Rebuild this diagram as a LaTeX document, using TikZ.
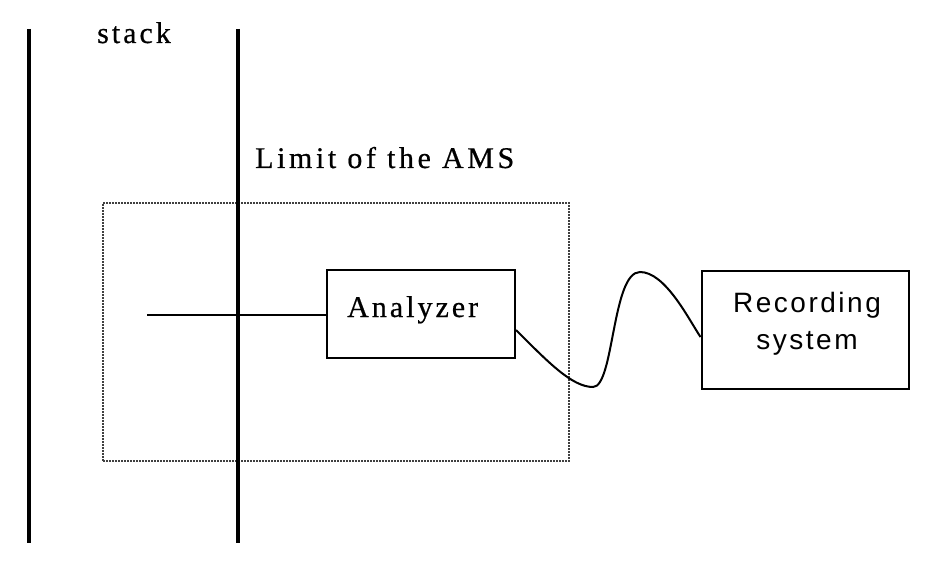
\documentclass[tikz,border=0pt]{standalone}
\usepackage{fontspec}
\usetikzlibrary{calc}
\newfontfamily\serifLS[LetterSpace=10,FakeBold=0.6]{Liberation Serif}
\newfontfamily\serifLW[LetterSpace=12,FakeBold=0.6]{Liberation Serif}
\newfontfamily\sansLS[LetterSpace=9]{Liberation Sans}
\begin{document}
\begin{tikzpicture}[x=1pt,y=-1pt,
  stackline/.style={line width=3.4pt},
  boxnode/.style={draw, line width=2pt, inner sep=0pt},
  amsbox/.style={draw=black!75, line width=1.6pt, dash pattern=on 1.6pt off 1.4pt, inner sep=0pt},
  serlbl/.style={font=\serifLS\fontsize{30}{36}\selectfont, inner sep=0pt, anchor=base west},
  sanlbl/.style={font=\sansLS\fontsize{28}{37}\selectfont, inner sep=0pt, align=center},
  wire/.style={line width=2pt},
  probe/.style={line width=1.3pt}]
\useasboundingbox (0,0) rectangle (928,569);
% stack walls
\coordinate (l1t) at (29,29);
\coordinate (l1b) at (29,543);
\coordinate (l2t) at (238,29);
\coordinate (l2b) at (238,543);
% AMS limit (dotted box)
\node[amsbox, minimum width=466pt, minimum height=258pt] (ams) at (336,332) {};
\draw[stackline] (l1t) -- (l1b);
\draw[stackline] (l2t) -- (l2b);
\node[serlbl] (stacklbl) at (97,43) {stack};
\node[serlbl, font=\serifLW\fontsize{30}{36}\selectfont] (amslbl) at (255,168) {Limit of the AMS};
% analyzer
\node[boxnode, minimum width=188pt, minimum height=88pt] (ana) at (421,314) {};
\node[serlbl] (analbl) at (347,317) {Analyzer};
% recording system
\node[boxnode, minimum width=207pt, minimum height=118pt] (rec) at (805,330) {};
\node[sanlbl] (reclbl) at ($(rec.center)+(2,-6)$) {Recording\\system};
% probe line
\coordinate (pstart) at (147,315);
\draw[probe] (pstart) -- (pstart -| ana.west);
% cable
\coordinate (cs) at ($(ana.east)+(0,16)$);
\coordinate (ce) at ($(rec.west)+(0,7)$);
\draw[wire] (cs) .. controls (548,362) and (572,387) .. (593,387)
  .. controls (614,387) and (612,272) .. (640,272)
  .. controls (665,272) and (688,318) .. (ce);
\end{tikzpicture}
\end{document}
